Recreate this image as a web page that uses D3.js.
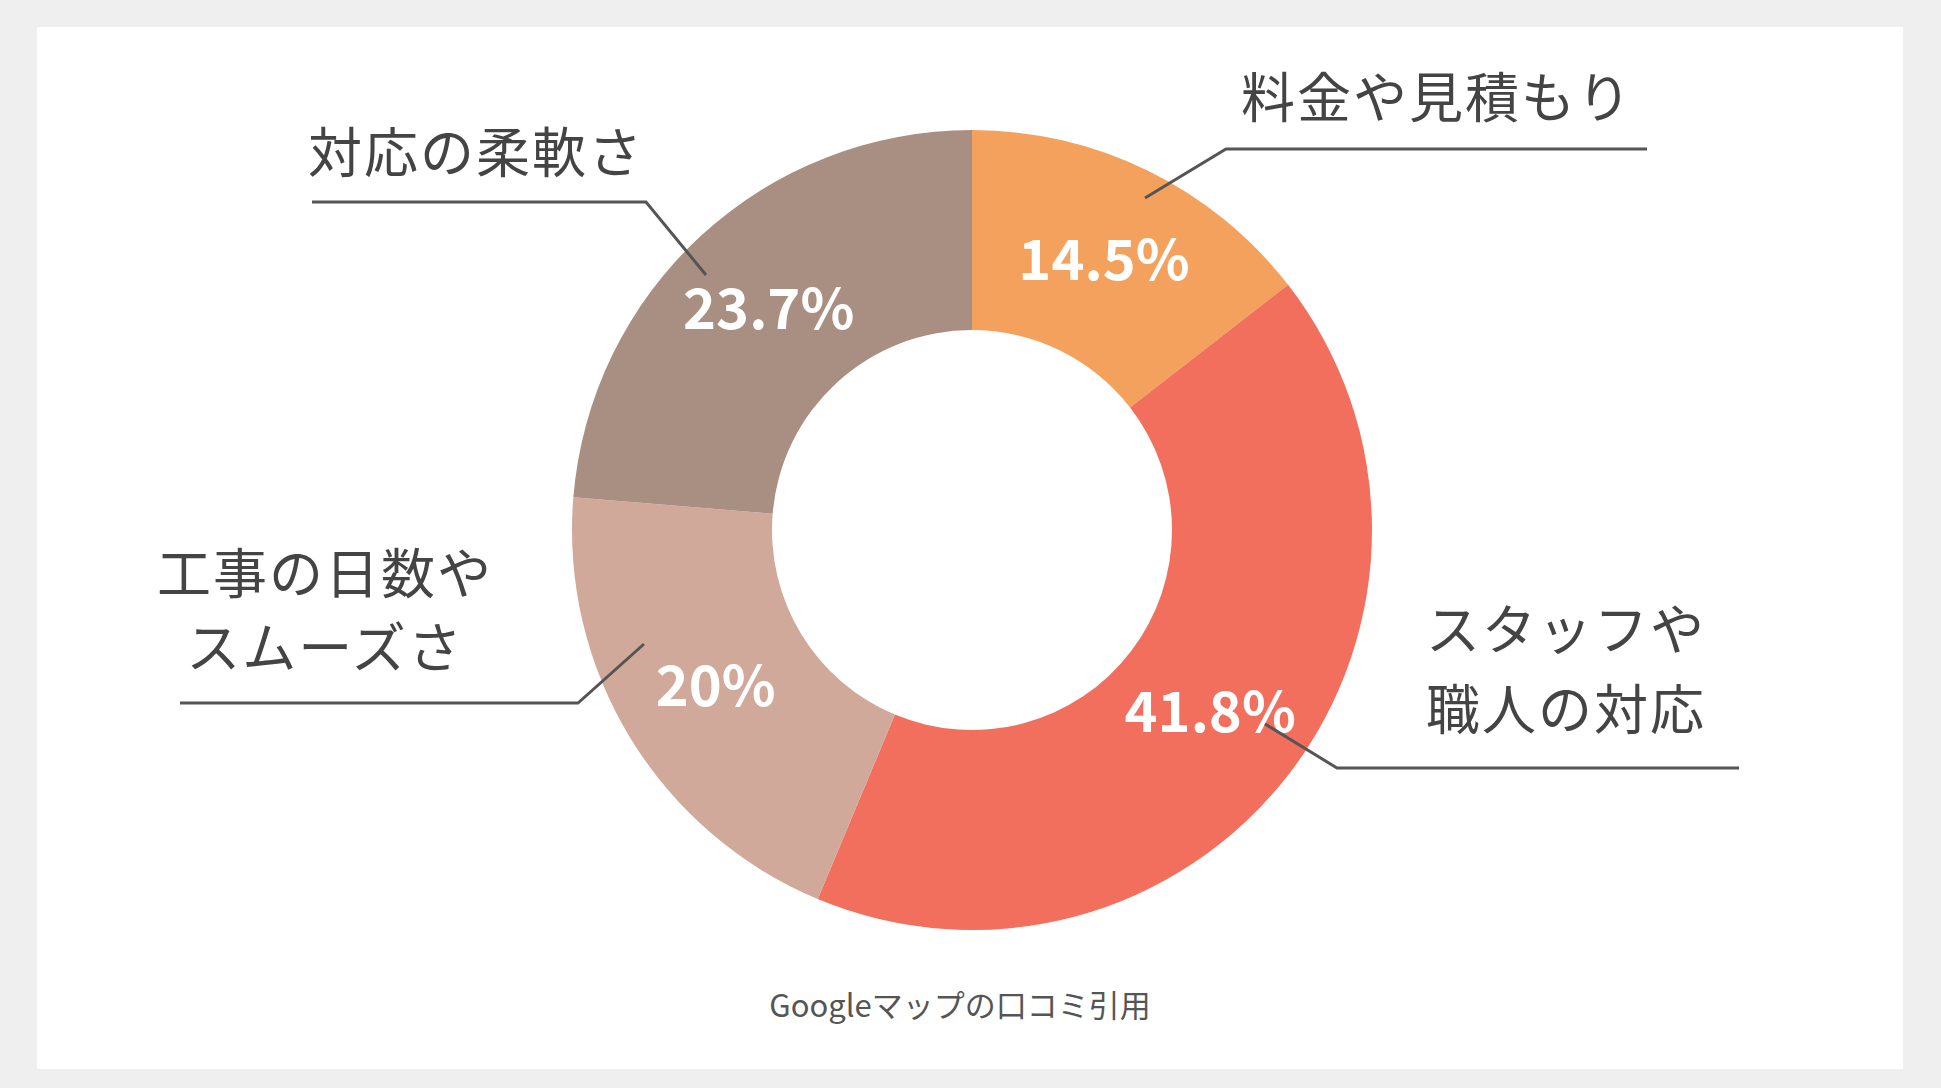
<!DOCTYPE html><html><head><meta charset="utf-8">
<script src="https://cdn.jsdelivr.net/npm/d3@7"></script>
<style>body{margin:0;background:#efefef}svg{display:block}</style></head><body>
<script>
const categories=["料金や見積もり","スタッフや職人の対応","工事の日数やスムーズさ","対応の柔軟さ"];
const values=[14.5,41.8,20,23.7];
const valueLabels=["14.5%","41.8%","20%","23.7%"];
const colors=["#F3A15D","#F26E5D","#D0A99A","#A98E82"];
const labelLines=[["料金や見積もり"],["スタッフや","職人の対応"],["工事の日数や","スムーズさ"],["対応の柔軟さ"]];

const W=1941,H=1088,cx=972,cy=530,R=400,r=200;
const svg=d3.select("body").append("svg").attr("width",W).attr("height",H);
svg.append("rect").attr("width",W).attr("height",H).attr("fill","#efefef");
svg.append("rect").attr("x",37).attr("y",27).attr("width",1866).attr("height",1042).attr("fill","#fff");
const g=svg.append("g").attr("transform",`translate(${cx},${cy})`);
const pie=d3.pie().sort(null).value(d=>d)(values);
const arc=d3.arc().innerRadius(r).outerRadius(R);
g.selectAll("path").data(pie).join("path").attr("d",arc).attr("fill",(d,i)=>colors[i]);
const lab=d3.arc().innerRadius(300).outerRadius(300);
const font="'Noto Sans CJK JP','Noto Sans',sans-serif";
g.selectAll("text.v").data(pie).join("text").attr("class","v")
 .attr("transform",d=>{const c=lab.centroid(d);return `translate(${c[0]},${c[1]})`;})
 .attr("text-anchor","middle").attr("dy","0.35em").attr("fill","#fff")
 .attr("font-family",font).attr("font-weight","bold").attr("font-size",56)
 .text((d,i)=>valueLabels[i]);
// callouts (absolute)
const lead=[
 {pts:[[1145,198],[1226,149],[1647,149]],tx:1437,ty:[118],anchor:"middle"},
 {pts:[[1265,724],[1337,768],[1739,768]],tx:1566,ty:[650,730],anchor:"middle"},
 {pts:[[644,644],[578,703],[180,703]],tx:325,ty:[594,668],anchor:"middle"},
 {pts:[[706,275],[646,202],[312,202]],tx:476,ty:[173],anchor:"middle"}];
lead.forEach((L,i)=>{
 svg.append("polyline").attr("points",L.pts.map(p=>p.join(",")).join(" "))
  .attr("fill","none").attr("stroke","#555").attr("stroke-width",3);
 labelLines[i].forEach((t,j)=>svg.append("text").attr("x",L.tx).attr("y",L.ty[j])
  .attr("text-anchor",L.anchor).attr("font-family",font).attr("font-size",54)
  .attr("fill","#444").attr("letter-spacing",2).text(t));
});
svg.append("text").attr("x",960).attr("y",1017).attr("text-anchor","middle")
 .attr("font-family",font).attr("font-size",31).attr("fill","#555").text("Googleマップの口コミ引用");
</script></body></html>
